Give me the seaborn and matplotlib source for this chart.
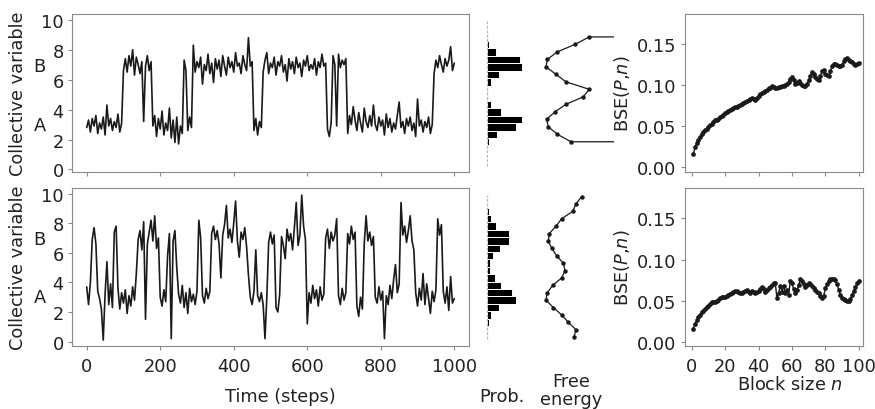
import numpy as np
import pandas as pd
import matplotlib
matplotlib.use("Agg")
import matplotlib.pyplot as plt
import seaborn as sns

# collective variable trajectories, one value every 5 steps
step = 5
top_cv = [
    2.8, 3.3, 2.5, 3.4, 2.9, 3.6, 2.4, 3.1, 2.7, 3.5, 2.3, 4.3, 2.9, 3.4, 2.6, 3.2, 2.8, 3.7, 2.5, 3.1,
    6.6, 7.4, 6.5, 7.6, 6.9, 8.0, 6.3, 7.5, 7.0, 6.4, 7.2, 3.2, 6.9, 7.6, 6.6, 7.2, 2.9, 3.6, 2.2, 3.4,
    2.7, 3.9, 2.3, 3.1, 2.6, 4.1, 2.1, 3.3, 1.8, 3.5, 1.7, 2.9, 2.4, 7.3, 6.6, 2.6, 3.5, 2.8, 8.3, 6.5,
    7.2, 6.8, 7.5, 5.7, 7.0, 6.6, 7.7, 6.4, 7.1, 5.8, 7.4, 6.7, 7.3, 6.2, 7.6, 6.9, 6.3, 7.5, 6.8, 7.2,
    6.5, 7.8, 6.9, 7.1, 6.4, 7.6, 7.0, 6.6, 8.8, 6.9, 7.2, 2.6, 3.4, 2.3, 3.2, 2.8, 6.5, 7.3, 7.8, 6.4,
    7.1, 6.8, 7.5, 6.3, 7.2, 6.9, 7.6, 6.5, 7.0, 5.9, 7.4, 6.7, 7.2, 6.4, 7.5, 6.8, 7.1, 6.2, 7.3, 6.9,
    7.6, 6.6, 7.0, 6.7, 7.4, 6.3, 7.2, 6.8, 7.7, 6.9, 7.1, 2.7, 2.2, 3.1, 7.6, 7.0, 2.9, 7.7, 6.8, 7.3,
    7.0, 7.4, 2.4, 3.6, 3.0, 4.2, 3.3, 2.6, 3.8, 3.1, 2.5, 4.1, 3.2, 2.8, 3.6, 2.9, 4.3, 3.0, 2.6, 3.5,
    2.9, 3.3, 2.3, 3.7, 2.8, 3.4, 2.5, 3.1, 2.7, 3.6, 4.5, 2.8, 3.2, 2.4, 3.4, 2.9, 3.5, 2.6, 3.1, 2.2,
    4.7, 2.9, 3.3, 2.5, 3.2, 2.8, 3.5, 2.4, 3.0, 6.4, 7.3, 6.8, 7.6, 7.0, 6.5, 7.4, 6.9, 7.3, 8.2, 6.6,
    7.1,
]
bottom_cv = [
    3.7, 2.5, 4.0, 6.9, 7.7, 6.6, 3.4, 2.9, 2.2, 0.1, 3.2, 5.4, 2.5, 3.9, 2.3, 7.4, 7.8, 3.6, 2.2, 3.3,
    2.6, 3.5, 1.9, 3.1, 2.4, 3.7, 2.8, 4.6, 6.9, 7.5, 6.2, 8.1, 1.5, 6.6, 7.4, 8.2, 6.8, 8.5, 6.3, 7.0,
    3.0, 2.4, 3.5, 2.7, 5.8, 7.3, 0.2, 6.8, 7.5, 5.0, 3.2, 2.6, 3.8, 2.3, 3.3, 1.9, 3.6, 2.7, 3.2, 2.5,
    3.4, 8.2, 7.0, 3.1, 2.6, 3.6, 2.9, 3.4, 7.3, 7.8, 6.9, 7.5, 6.6, 4.3, 7.2, 7.9, 9.2, 7.0, 7.6, 6.7,
    8.0, 9.5, 6.8, 5.7, 7.4, 6.9, 7.7, 6.4, 4.5, 3.0, 2.5, 3.4, 6.2, 3.1, 2.7, 3.3, 2.5, 0.2, 3.0, 6.7,
    7.4, 6.6, 7.2, 2.3, 2.0, 3.2, 7.1, 6.5, 5.6, 7.6, 6.8, 7.3, 6.2, 7.7, 9.4, 6.5, 7.2, 9.9, 7.8, 6.9,
    1.2, 3.3, 2.6, 3.8, 2.9, 3.5, 2.4, 3.7, 2.8, 3.2, 7.0, 7.6, 6.3, 7.4, 6.8, 7.2, 8.3, 3.1, 2.5, 3.6,
    2.8, 3.3, 7.3, 6.6, 7.8, 6.9, 7.4, 2.4, 1.7, 3.0, 2.2, 6.6, 8.5, 6.8, 7.4, 6.5, 7.1, 3.0, 2.6, 3.7,
    2.8, 3.4, 0.2, 3.1, 2.5, 3.8, 2.9, 4.2, 5.2, 3.3, 3.9, 9.4, 7.2, 7.8, 6.7, 7.5, 8.5, 6.8, 6.2, 3.3,
    2.4, 3.6, 2.8, 4.6, 2.5, 3.9, 2.9, 1.9, 3.4, 2.7, 3.5, 8.3, 7.2, 7.9, 3.4, 2.6, 3.7, 2.1, 4.4, 2.6,
    2.9,
]

# histogram / free energy, top row
top_levels = [8.85, 8.35, 7.85, 7.35, 6.85, 6.35, 5.85, 5.35, 4.85, 4.35, 3.85, 3.35, 2.85, 2.35, 1.85]
top_prob = [0.002, 0.009, 0.049, 0.175, 0.186, 0.062, 0.023, 0.002, 0.003, 0.023, 0.072, 0.184, 0.154, 0.053, 0.011]
top_fe = [4.71, 3.15, 1.23, 0.14, 0.00, 1.09, 2.17, 4.71, 4.06, 2.17, 0.98, 0.07, 0.25, 1.23, 2.72]
fe_offscale = 12.0  # empty outer bins, line runs off the panel

# histogram / free energy, bottom row
bottom_levels = [9.8, 9.3, 8.8, 8.3, 7.8, 7.3, 6.8, 6.3, 5.8, 5.3, 4.8, 4.3, 3.8, 3.3, 2.8, 2.3, 1.8, 1.3, 0.8, 0.3]
bottom_prob = [0.003, 0.006, 0.008, 0.023, 0.049, 0.119, 0.116, 0.067, 0.032, 0.017,
               0.014, 0.040, 0.075, 0.133, 0.154, 0.063, 0.023, 0.011, 0.006, 0.004]
bottom_fe = [3.88, 3.26, 2.90, 1.70, 1.09, 0.36, 0.25, 0.62, 1.16, 1.88,
             2.07, 1.70, 0.72, 0.14, 0.00, 0.80, 1.70, 2.43, 3.26, 3.04]

# block standard error vs block size
block_size = list(range(1, 101))
top_bse = [
    0.016, 0.024, 0.029, 0.033, 0.037, 0.040, 0.043, 0.045, 0.047, 0.049,
    0.051, 0.053, 0.055, 0.057, 0.058, 0.059, 0.061, 0.063, 0.064, 0.066,
    0.067, 0.068, 0.070, 0.071, 0.072, 0.073, 0.074, 0.075, 0.076, 0.077,
    0.078, 0.079, 0.081, 0.082, 0.083, 0.084, 0.083, 0.082, 0.085, 0.087,
    0.089, 0.091, 0.092, 0.093, 0.094, 0.096, 0.097, 0.099, 0.098, 0.097,
    0.097, 0.098, 0.098, 0.099, 0.099, 0.100, 0.102, 0.104, 0.107, 0.110,
    0.106, 0.102, 0.103, 0.105, 0.103, 0.100, 0.099, 0.099, 0.102, 0.106,
    0.111, 0.116, 0.114, 0.110, 0.107, 0.106, 0.111, 0.117, 0.118, 0.114,
    0.112, 0.111, 0.117, 0.123, 0.126, 0.126, 0.125, 0.124, 0.124, 0.125,
    0.129, 0.132, 0.133, 0.131, 0.129, 0.128, 0.126, 0.125, 0.126, 0.127,
]
bottom_bse = [
    0.016, 0.022, 0.026, 0.030, 0.033, 0.036, 0.038, 0.040, 0.042, 0.044,
    0.046, 0.048, 0.048, 0.049, 0.050, 0.051, 0.053, 0.054, 0.054, 0.055,
    0.056, 0.057, 0.058, 0.059, 0.061, 0.062, 0.062, 0.061, 0.060, 0.059,
    0.061, 0.062, 0.063, 0.061, 0.060, 0.062, 0.061, 0.060, 0.061, 0.062,
    0.064, 0.067, 0.064, 0.061, 0.063, 0.065, 0.067, 0.069, 0.071, 0.072,
    0.053, 0.059, 0.068, 0.061, 0.068, 0.059, 0.063, 0.057, 0.074, 0.072,
    0.064, 0.059, 0.063, 0.069, 0.076, 0.074, 0.070, 0.067, 0.069, 0.071,
    0.070, 0.068, 0.066, 0.063, 0.061, 0.059, 0.056, 0.053, 0.056, 0.065,
    0.070, 0.074, 0.076, 0.076, 0.076, 0.075, 0.070, 0.063, 0.057, 0.053,
    0.052, 0.051, 0.050, 0.050, 0.052, 0.057, 0.062, 0.067, 0.071, 0.074,
]

sns.set_style("ticks")
plt.rcParams["font.family"] = ["DejaVu Sans"]
plt.rcParams["mathtext.fontset"] = "dejavusans"

FS = 12.8
INK = "#1a1a1a"
TXT = "#222222"
FRAME = "#8a8a8a"

W, H = 875, 410
fig = plt.figure(figsize=(W / 100, H / 100), dpi=100)


def add_ax(x0, y0, x1, y1):
    # pixel box (top-left origin) -> figure axes
    return fig.add_axes([x0 / W, 1 - y1 / H, (x1 - x0) / W, (y1 - y0) / H])


def style_frame(ax):
    for s in ax.spines.values():
        s.set_color(FRAME)
        s.set_linewidth(0.8)
    ax.tick_params(axis="both", direction="out", length=3, width=0.8, color=FRAME,
                   labelsize=FS, labelcolor=TXT)
    ax.tick_params(axis="x", pad=5)
    ax.tick_params(axis="y", pad=3)
    ax.set_xlabel("")
    ax.set_ylabel("")


rows = [
    dict(y0=15, y1=173, cv=top_cv, levels=top_levels, prob=top_prob, fe=top_fe,
         bins=[1.6 + 0.5 * k for k in range(16)], bse=top_bse,
         ylim=(-0.17, 10.38), bse_ylim=(-0.006, 0.187)),
    dict(y0=189, y1=347, cv=bottom_cv, levels=bottom_levels, prob=bottom_prob, fe=bottom_fe,
         bins=[0.05 + 0.5 * k for k in range(21)], bse=bottom_bse,
         ylim=(-0.3, 10.38), bse_ylim=(-0.005, 0.187)),
]

for i, r in enumerate(rows):
    last = i == len(rows) - 1
    time = np.arange(len(r["cv"])) * step

    # trajectory
    ax = add_ax(72, r["y0"], 469, r["y1"])
    sns.lineplot(x=time, y=r["cv"], color=INK, lw=1.2, ax=ax)
    ax.set_xlim(-40, 1040)
    ax.set_ylim(*r["ylim"])
    ax.set_xticks([0, 200, 400, 600, 800, 1000])
    ax.set_yticks([0, 2, 4, 6, 8, 10])
    style_frame(ax)
    ax.tick_params(axis="x", labelbottom=last)
    yt = ax.get_yaxis_transform()
    ax.text(-0.081, 3.0, "A", transform=yt, ha="center", va="center", fontsize=FS, color=TXT)
    ax.text(-0.081, 6.9, "B", transform=yt, ha="center", va="center", fontsize=FS, color=TXT)
    fig.text(18 / W, 1 - (r["y0"] + r["y1"]) / 2 / H, "Collective variable", rotation=90,
             ha="center", va="center", fontsize=FS, color=TXT)

    # probability histogram
    axh = add_ax(484, r["y0"], 531, r["y1"])
    axh.vlines(0, 0.2, 9.9, color="#b5b5b5", lw=0.8, linestyles=(0, (2.5, 1.5)))
    hist_df = pd.DataFrame({"level": r["levels"], "prob": r["prob"]})
    sns.histplot(data=hist_df, y="level", weights="prob", bins=r["bins"], color="black",
                 edgecolor="white", linewidth=0.7, alpha=1, ax=axh)
    axh.set_xlim(-0.017, 0.234)
    axh.set_ylim(*r["ylim"])
    axh.axis("off")

    # free energy
    axf = add_ax(535, r["y0"], 614, r["y1"])
    if i == 0:
        fe_x = [fe_offscale] + r["fe"] + [fe_offscale]
        fe_y = [r["levels"][0]] + r["levels"] + [r["levels"][-1]]
    else:
        fe_x, fe_y = r["fe"], r["levels"]
    sns.lineplot(x=fe_x, y=fe_y, sort=False, estimator=None, color=INK, lw=0.9,
                 marker="o", markersize=3.2, markeredgewidth=0, ax=axf)
    axf.set_xlim(-1.2, 7.4)
    axf.set_ylim(*r["ylim"])
    axf.axis("off")

    # block standard error
    axb = add_ax(685, r["y0"], 863, r["y1"])
    sns.lineplot(x=block_size, y=r["bse"], color=INK, lw=1.0, marker="o",
                 markersize=3.4, markeredgewidth=0, ax=axb)
    axb.set_xlim(-4, 102.5)
    axb.set_ylim(*r["bse_ylim"])
    axb.set_xticks([0, 20, 40, 60, 80, 100])
    axb.set_yticks([0.0, 0.05, 0.10, 0.15])
    axb.set_yticklabels(["0.00", "0.05", "0.10", "0.15"])
    style_frame(axb)
    axb.tick_params(axis="x", labelbottom=last)
    fig.text(622 / W, 1 - (r["y0"] + r["y1"]) / 2 / H, "BSE($P$,$n$)", rotation=90,
             ha="center", va="center", fontsize=FS, color=TXT)

fig.text(280 / W, 1 - 397 / H, "Time (steps)", ha="center", va="center", fontsize=FS, color=TXT)
fig.text(502 / W, 1 - 397 / H, "Prob.", ha="center", va="center", fontsize=FS, color=TXT)
fig.text(571 / W, 1 - 391 / H, "Free\nenergy", ha="center", va="center", fontsize=FS,
         color=TXT, linespacing=1.0)
fig.text(790 / W, 1 - 385 / H, "Block size $n$", ha="center", va="center", fontsize=FS, color=TXT)

fig.savefig("out.png", dpi=100)
